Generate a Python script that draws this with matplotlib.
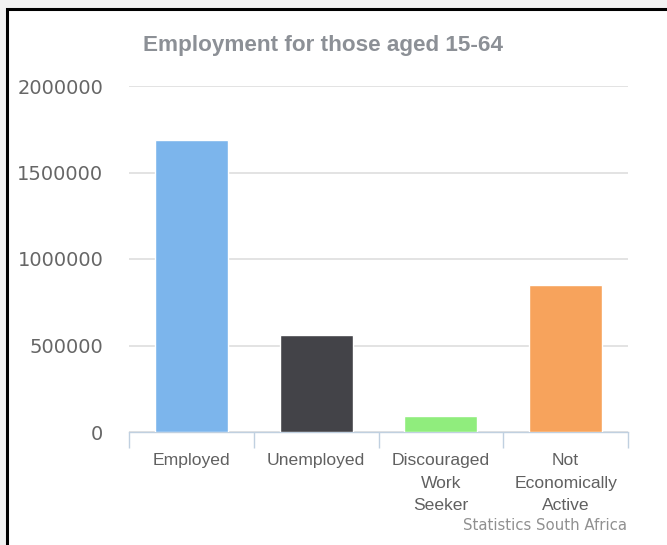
import matplotlib
matplotlib.use("Agg")
from matplotlib import pyplot as plt
from matplotlib.patches import Rectangle

# data
categories = ["Employed", "Unemployed", "Discouraged\nWork\nSeeker", "Not\nEconomically\nActive"]
values = [1685000, 560000, 95000, 850000]
colors = ["#7cb5ec", "#434348", "#90ed7d", "#f7a35c"]
y_ticks = [0, 500000, 1000000, 1500000, 2000000]

W, H = 667, 545
fig = plt.figure(figsize=(W / 100, H / 100), dpi=100)
fig.patch.set_facecolor("#f2f2f2")

# white chart box with black frame (left and top edges visible)
fig.patches.append(Rectangle((7 / W, -0.1), 1.2, (H - 9) / H + 0.1, transform=fig.transFigure,
                             facecolor="white", edgecolor="black", linewidth=2.2, zorder=-10))

ax = fig.add_axes([129 / W, 1 - 432 / H, 499 / W, 346 / H])
ax.set_facecolor("none")

x = list(range(len(categories)))
ax.bar(x, values, width=0.585, color=colors, edgecolor="white", linewidth=1.0, zorder=3)

ax.set_xlim(-0.5, len(categories) - 0.5)
ax.set_ylim(0, 2000000)

ax.set_yticks(y_ticks)
ax.set_yticklabels([str(v) for v in y_ticks], fontfamily="DejaVu Sans", fontsize=14, color="#666666")
ax.tick_params(axis="y", length=0, pad=18.5)
ax.grid(axis="y", color="#e3e3e3", linewidth=1.4, zorder=0)
ax.set_axisbelow(True)

# category boundaries as ticks, labels on minor ticks
ax.set_xticks([i - 0.5 for i in range(len(categories) + 1)])
ax.set_xticklabels([])
ax.tick_params(axis="x", which="major", length=11.5, width=1, color="#c0d0e0", direction="out")
ax.set_xticks(x, minor=True)
ax.set_xticklabels(categories, minor=True, fontfamily="Liberation Sans", fontsize=12.6,
                   color="#606060", linespacing=1.65, va="top")
ax.tick_params(axis="x", which="minor", length=0, pad=15)

for side in ["left", "right", "top"]:
    ax.spines[side].set_visible(False)
ax.spines["bottom"].set_color("#c0d0e0")
ax.spines["bottom"].set_linewidth(1)

fig.text(323 / W, 1 - 45 / H, "Employment for those aged 15-64", ha="center", va="center",
         fontfamily="Liberation Sans", fontweight="bold", fontsize=16.2, color="#8c9096")
fig.text(627 / W, 1 - 525 / H, "Statistics South Africa", ha="right", va="center",
         fontfamily="DejaVu Sans", fontsize=10.7, color="#909090")

fig.savefig("out.png", dpi=100, facecolor=fig.get_facecolor())
